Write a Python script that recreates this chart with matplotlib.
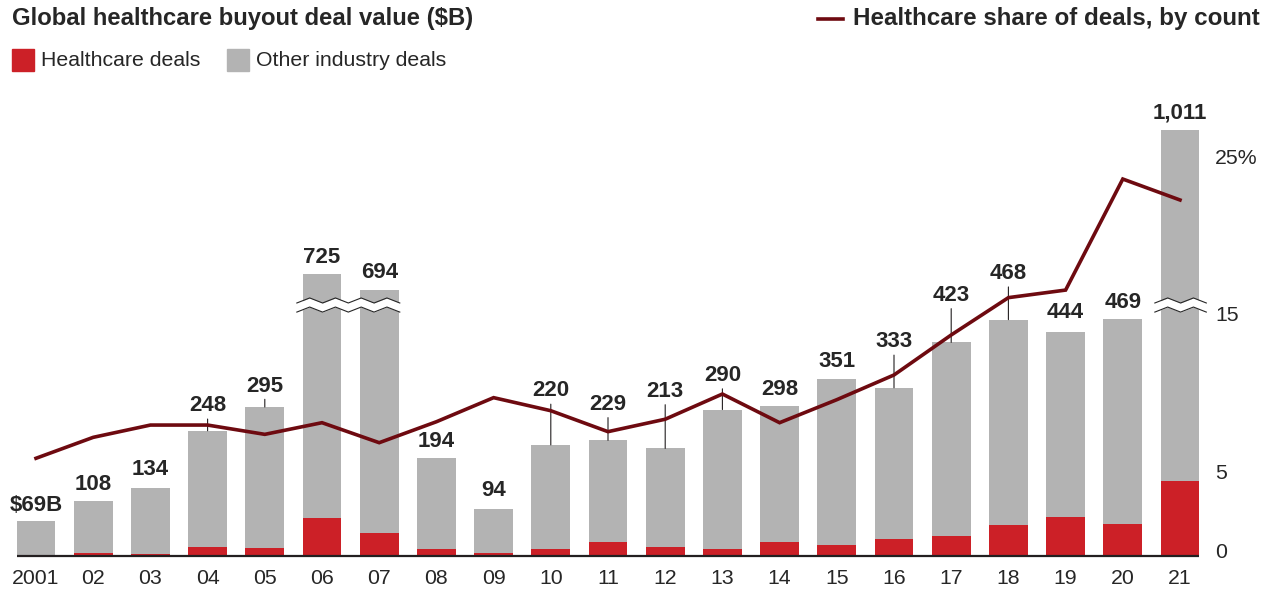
import numpy as np
import matplotlib
matplotlib.use("Agg")
import matplotlib.pyplot as plt
from matplotlib.patches import Rectangle
from matplotlib.lines import Line2D

plt.rcParams['font.family'] = ['Liberation Sans', 'DejaVu Sans']

# data
years = ['2001', '02', '03', '04', '05', '06', '07', '08', '09', '10', '11',
         '12', '13', '14', '15', '16', '17', '18', '19', '20', '21']
total_deals = [69, 108, 134, 248, 295, 725, 694, 194, 94, 220, 229,
               213, 290, 298, 351, 333, 423, 468, 444, 469, 1011]
healthcare_deals = [2, 5, 3, 18, 16, 76, 46, 14, 5, 14, 28,
                    18, 14, 28, 22, 34, 40, 61, 77, 63, 149]
hc_share = [5.95, 7.28, 8.06, 8.06, 7.47, 8.21, 6.94, 8.27, 9.80, 8.97, 7.64,
            8.43, 10.03, 8.21, 9.67, 11.24, 13.78, 16.15, 16.63, 23.68, 22.35]
value_labels = ['$69B', '108', '134', '248', '295', '725', '694', '194', '94', '220', '229',
                '213', '290', '298', '351', '333', '423', '468', '444', '469', '1,011']
share_ticks = [0, 5, 15, 25]
share_tick_labels = ['0', '5', '15', '25%']

# layout
W, H = 1270, 592
RED = '#cc2027'
GREY = '#b3b3b3'
LINE = '#6e0a10'
TXT = '#262626'
BREAK_CUT = 600      # bars above this get the axis break
BREAK_GAP = 167      # amount removed by the break
BREAK_AT = 497       # where the break is drawn (display units)
label_lift_px = [16, 17, 19, 25, 21, 17, 17, 17, 18, 54, 36,
                 57, 34, 16, 17, 46, 47, 46, 19, 17, 17]

fig = plt.figure(figsize=(W / 100, H / 100), dpi=100)
ax = fig.add_axes([0, 0, 1, 1])
px_per_unit = 0.505
base_px = 556
ax.set_xlim(-36 / 57.2, (W - 36) / 57.2)
ax.set_ylim(-(H - base_px) / px_per_unit, base_px / px_per_unit)
ax.axis('off')

x = np.arange(len(years))
shown = [v - BREAK_GAP if v > BREAK_CUT else v for v in total_deals]
bw = 0.68
ax.bar(x, shown, width=bw, color=GREY, zorder=2)
ax.bar(x, healthcare_deals, width=bw, color=RED, zorder=3)
ax.plot([-0.34, len(years) - 1 + 0.34], [0, 0], color='#231f20', lw=1.6,
        zorder=4, solid_capstyle='butt')

# axis breaks
broken = [i for i, v in enumerate(total_deals) if v > BREAK_CUT]
groups = []
for i in broken:
    if groups and groups[-1][-1] == i - 1:
        groups[-1].append(i)
    else:
        groups.append([i])
for g in groups:
    x0, x1 = g[0] - 0.44, g[-1] + 0.47
    zx = np.arange(x0, x1 + 0.001, 0.225)
    amp = np.where(np.arange(len(zx)) % 2 == 0, -5, 5)
    lo = BREAK_AT - 9 + amp
    hi = BREAK_AT + 9 + amp
    ax.fill_between(zx, lo, hi, color='white', zorder=5, lw=0)
    ax.plot(zx, lo, color=TXT, lw=0.8, zorder=6)
    ax.plot(zx, hi, color=TXT, lw=0.8, zorder=6)

# value labels
for i, (lab, top) in enumerate(zip(value_labels, shown)):
    lift = label_lift_px[i] * 0.72
    arrow = None
    if label_lift_px[i] > 20:
        arrow = dict(arrowstyle='-', color='#231f20', lw=0.8, shrinkA=0, shrinkB=0)
    ax.annotate(lab, xy=(i, top), xytext=(0, lift), textcoords='offset points',
                ha='center', va='center', fontsize=16, fontweight='bold',
                color=TXT, arrowprops=arrow, zorder=7)

# year labels
for i, yr in enumerate(years):
    ax.text(i, -(579 - base_px) / px_per_unit, yr, ha='center', va='center',
            fontsize=15.3, color=TXT)

# share line on its own scale
ax2 = ax.twinx()
ax2.set_position([0, 0, 1, 1])
share_px_per_pt = 15.75
share_zero_px = 552
ax2.set_ylim(-(H - share_zero_px) / share_px_per_pt, share_zero_px / share_px_per_pt)
ax2.axis('off')
ax2.plot(x, hc_share, color=LINE, lw=2.6, zorder=8, solid_joinstyle='miter')
for t, tl in zip(share_ticks, share_tick_labels):
    ax2.text((1215 - 36) / 57.2, t, tl, ha='left', va='center', fontsize=15.3, color=TXT)

# title and legends
fig.text(12 / W, 1 - 19 / H, 'Global healthcare buyout deal value ($B)', ha='left',
         va='center', fontsize=17.2, fontweight='bold', color=TXT)
fig.patches.append(Rectangle((12 / W, 1 - 71 / H), 22 / W, 22 / H,
                             transform=fig.transFigure, color=RED))
fig.text(41 / W, 1 - 61 / H, 'Healthcare deals', ha='left', va='center',
         fontsize=15.3, color=TXT)
fig.patches.append(Rectangle((227 / W, 1 - 71 / H), 22 / W, 22 / H,
                             transform=fig.transFigure, color=GREY))
fig.text(256 / W, 1 - 61 / H, 'Other industry deals', ha='left', va='center',
         fontsize=15.3, color=TXT)
fig.lines.append(Line2D([818 / W, 843 / W], [1 - 19 / H, 1 - 19 / H],
                        transform=fig.transFigure, color=LINE, lw=2.6))
fig.text(853 / W, 1 - 19 / H, 'Healthcare share of deals, by count', ha='left',
         va='center', fontsize=17.4, fontweight='bold', color=TXT)

fig.savefig('out.png', dpi=100)
